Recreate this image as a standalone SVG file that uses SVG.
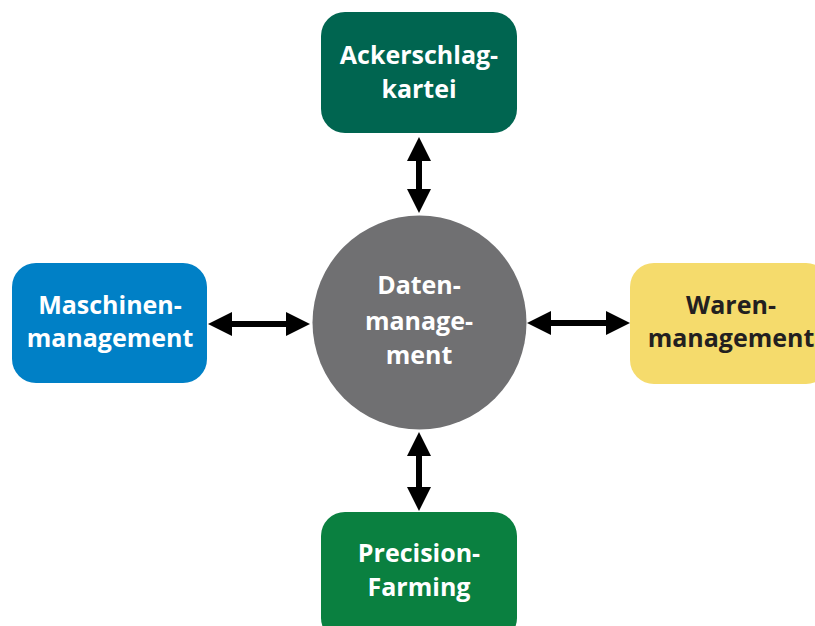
<svg xmlns="http://www.w3.org/2000/svg" width="815" height="626" viewBox="0 0 815 626">
<defs>
<style>
.lbl{font-family:"Open Sans","Noto Sans","Liberation Sans",sans-serif;font-weight:700;font-size:25px;text-anchor:middle;fill:#ffffff}
.dark{fill:#231f20}
.conn{stroke:#000000;stroke-width:6;fill:none}
</style>
<marker id="ah" viewBox="0 0 24 24" markerWidth="24" markerHeight="24" refX="4" refY="12" orient="auto-start-reverse" markerUnits="userSpaceOnUse">
<path d="M0,0 L24,12 L0,24 Z" fill="#000000"/>
</marker>
</defs>
<rect width="815" height="626" fill="#ffffff"/>
<g id="connectors">
<line class="conn" x1="419" y1="157" x2="419" y2="193" marker-start="url(#ah)" marker-end="url(#ah)"/>
<line class="conn" x1="419" y1="452" x2="419" y2="491" marker-start="url(#ah)" marker-end="url(#ah)"/>
<line class="conn" x1="228" y1="324" x2="290" y2="324" marker-start="url(#ah)" marker-end="url(#ah)"/>
<line class="conn" x1="547" y1="323" x2="610" y2="323" marker-start="url(#ah)" marker-end="url(#ah)"/>
</g>
<g id="ackerschlagkartei">
<rect x="321" y="12" width="196" height="121" rx="24" fill="#006550"/>
<text class="lbl" x="419" y="64">Ackerschlag-</text>
<text class="lbl" x="419" y="98">kartei</text>
</g>
<g id="maschinenmanagement">
<rect x="12" y="263" width="195" height="120" rx="24" fill="#0080c6"/>
<text class="lbl" x="110" y="314">Maschinen-</text>
<text class="lbl" x="110" y="347">management</text>
</g>
<g id="warenmanagement">
<rect x="630" y="263" width="200" height="121" rx="24" fill="#f5db6c"/>
<text class="lbl dark" x="731" y="314">Waren-</text>
<text class="lbl dark" x="731" y="347">management</text>
</g>
<g id="precisionfarming">
<rect x="321" y="512" width="196" height="130" rx="24" fill="#0a8040"/>
<text class="lbl" x="419" y="562">Precision-</text>
<text class="lbl" x="419" y="596">Farming</text>
</g>
<g id="datenmanagement">
<circle cx="419.5" cy="322.5" r="107" fill="#707072"/>
<text class="lbl" x="419" y="294">Daten-</text>
<text class="lbl" x="419" y="330">manage-</text>
<text class="lbl" x="419" y="364">ment</text>
</g>
</svg>
